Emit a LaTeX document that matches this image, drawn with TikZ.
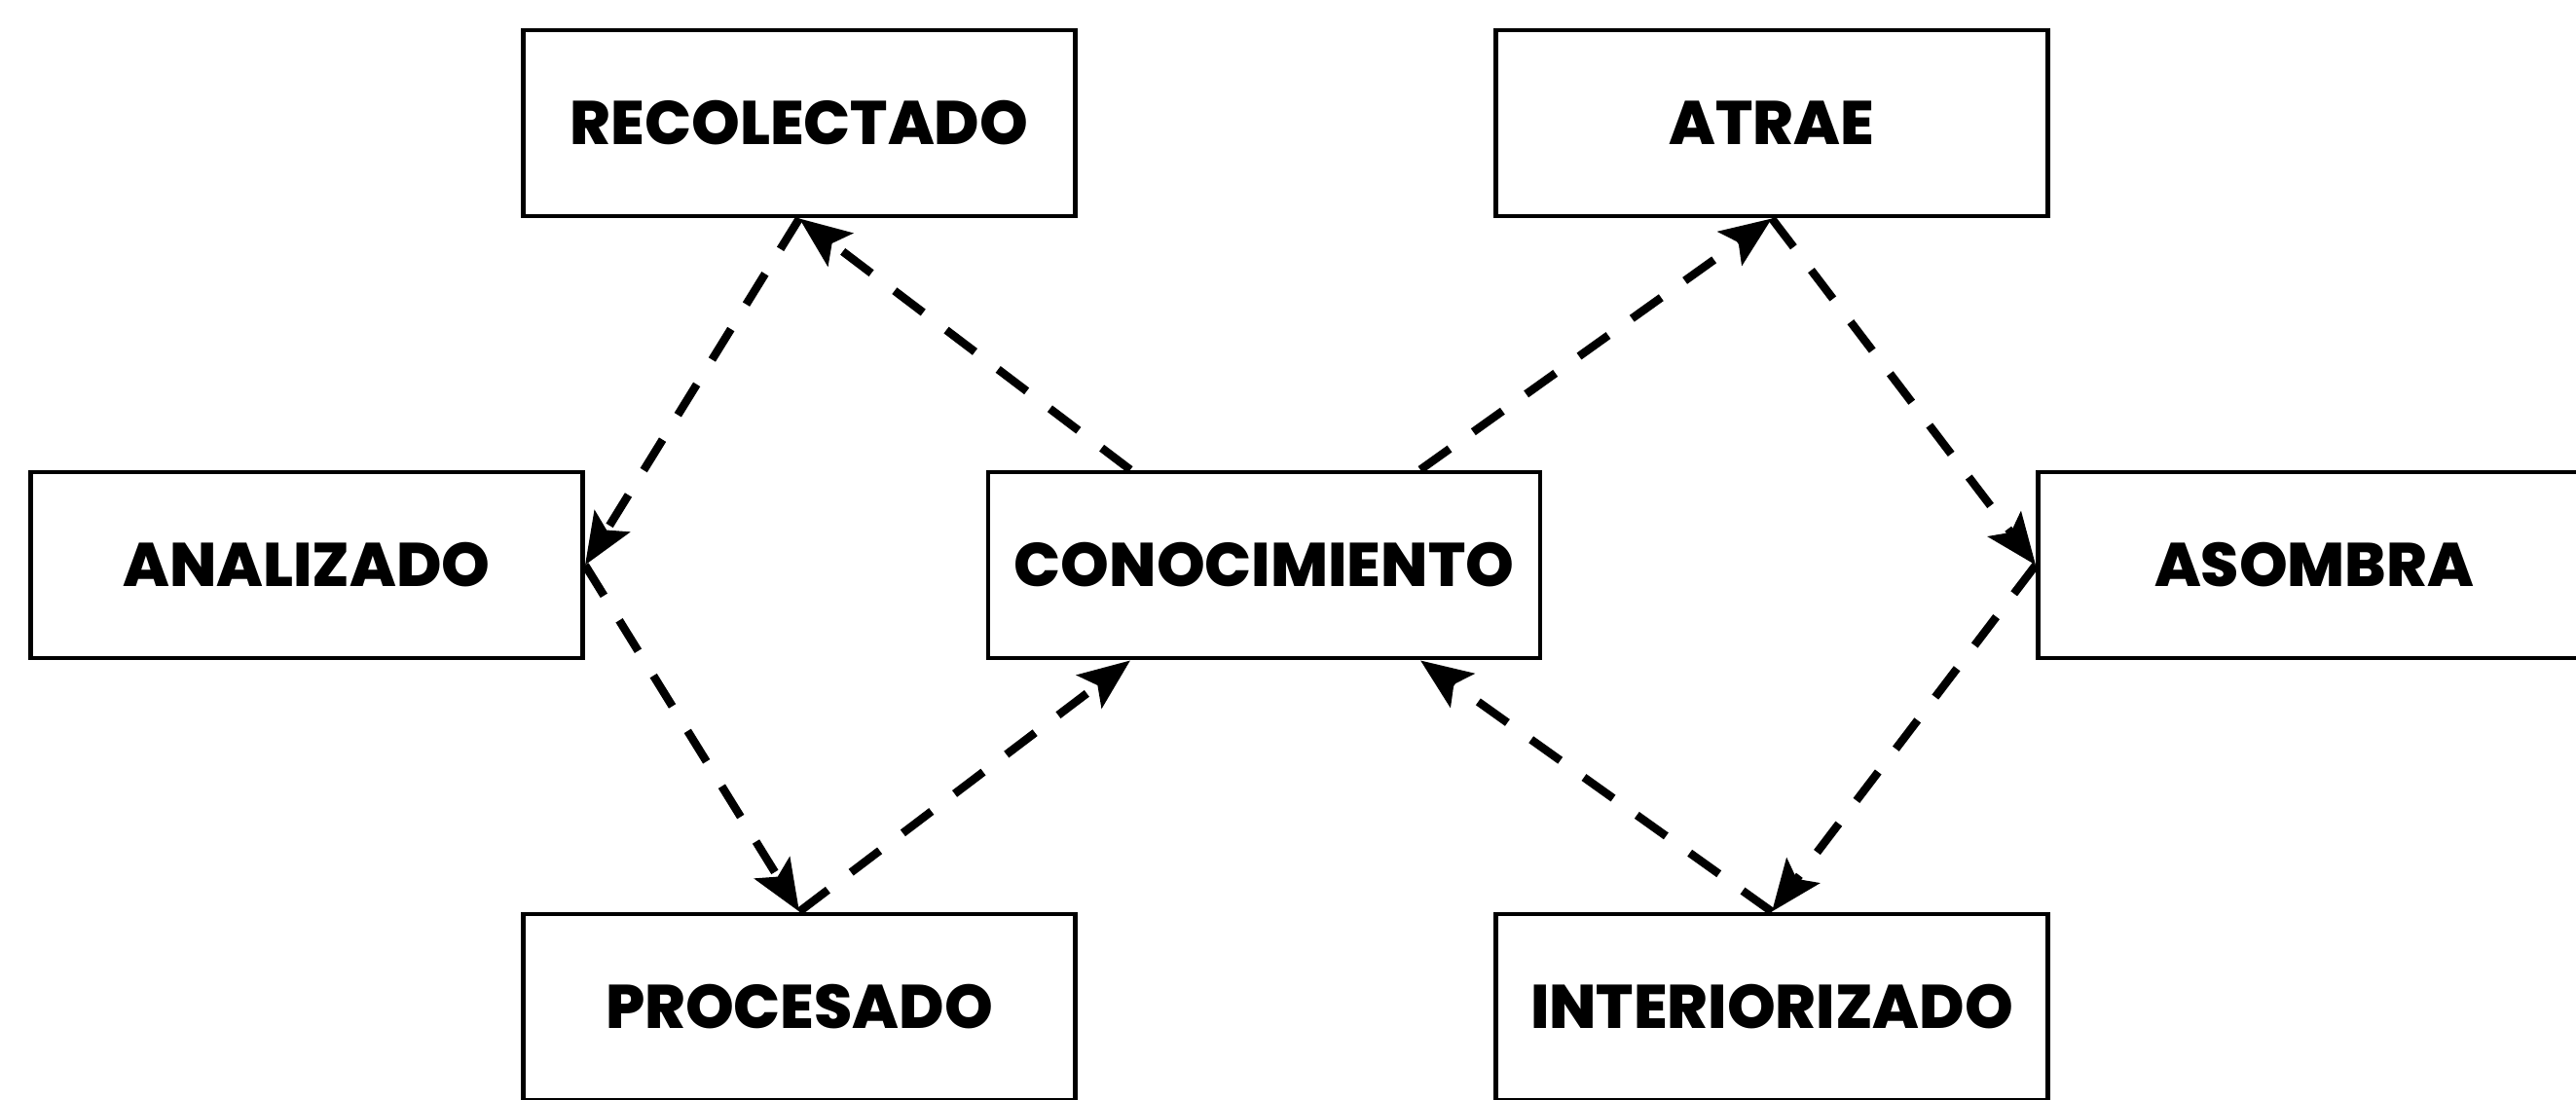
\documentclass[tikz,border=0pt]{standalone}
\usepackage{fontspec}
\setmainfont{Poppins}[BoldFont={* ExtraBold}]
\usetikzlibrary{arrows.meta,calc}

\begin{document}
\begin{tikzpicture}[
    font=\fontsize{18}{22}\selectfont\bfseries,
    >={Stealth[length=15pt, width=12pt, inset=3pt]},
    concept/.style = {rectangle, draw, line width=1.4pt, inner sep=0pt,
                      minimum width=5.67cm, minimum height=1.91cm, align=center},
    flow/.style    = {->, line width=2.4pt, dash pattern=on 10.5pt off 8.5pt}
]
\useasboundingbox (0,0) rectangle (26.46,-11.30);

% --- Hub ----------------------------------------------------------------------
\node[concept] (conoc) at (12.985,-5.805) {CONOCIMIENTO};

% --- Left loop ----------------------------------------------------------------
\node[concept] (recol) at (8.21,-1.265)   {RECOLECTADO};
\node[concept] (anali) at (3.15,-5.805)   {ANALIZADO};
\node[concept] (proce) at (8.21,-10.345)  {PROCESADO};

% --- Right loop ---------------------------------------------------------------
\node[concept] (atrae) at (18.20,-1.265)  {ATRAE};
\node[concept] (asomb) at (23.77,-5.805)  {ASOMBRA};
\node[concept] (inter) at (18.20,-10.345) {INTERIORIZADO};

% ports on the hub
\coordinate (conoc-nl) at ($(conoc.north)+(-1.375,0)$);
\coordinate (conoc-nr) at ($(conoc.north)+(1.605,0)$);
\coordinate (conoc-sl) at ($(conoc.south)+(-1.375,0)$);
\coordinate (conoc-sr) at ($(conoc.south)+(1.605,0)$);

% --- Flows --------------------------------------------------------------------
\draw[flow] (conoc-nl)    -- (recol.south);
\draw[flow] (recol.south) -- (anali.east);
\draw[flow] (anali.east)  -- (proce.north);
\draw[flow] (proce.north) -- (conoc-sl);

\draw[flow] (conoc-nr)    -- (atrae.south);
\draw[flow] (atrae.south) -- (asomb.west);
\draw[flow] (asomb.west)  -- (inter.north);
\draw[flow] (inter.north) -- (conoc-sr);

\end{tikzpicture}
\end{document}
